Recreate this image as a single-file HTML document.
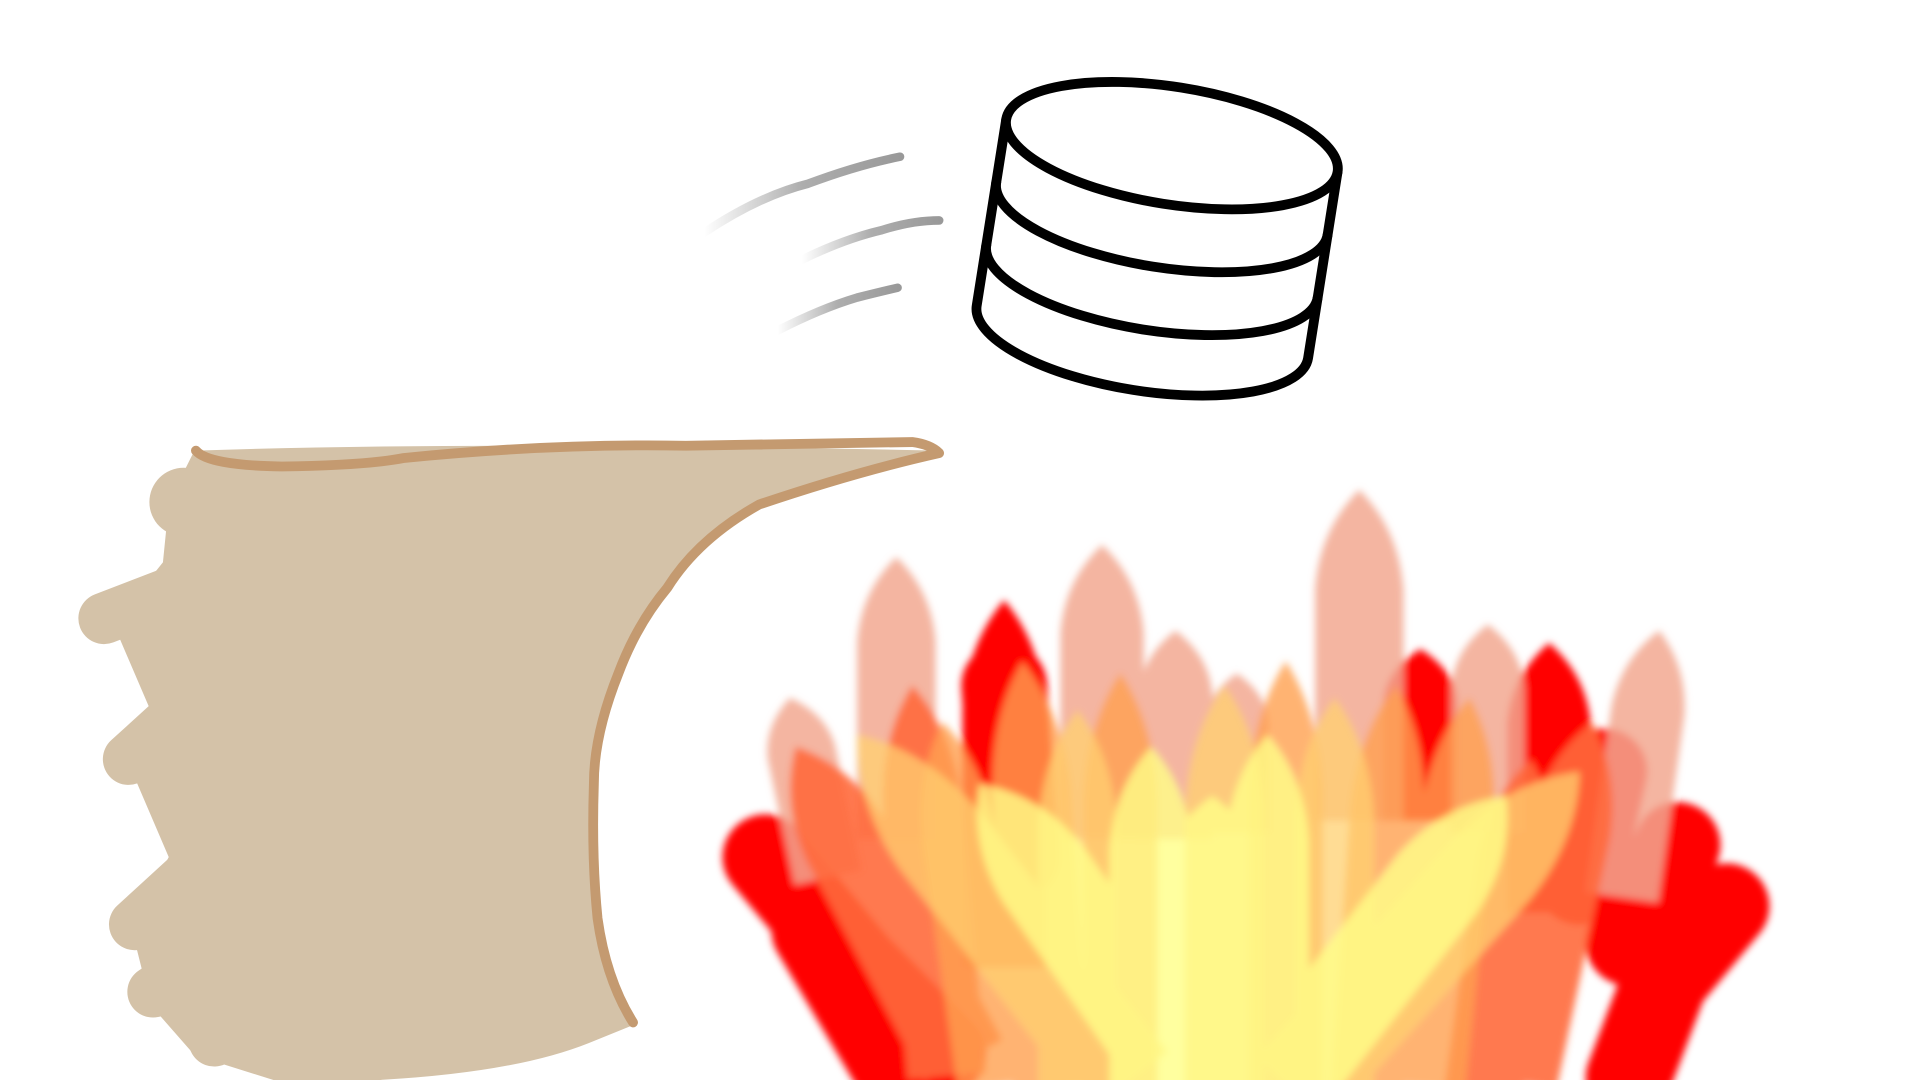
<!DOCTYPE html>
<html><head><meta charset="utf-8"><style>
html,body{margin:0;padding:0;background:#fff;width:1920px;height:1080px;overflow:hidden}
svg{display:block}
</style></head><body>
<svg width="1920" height="1080" viewBox="0 0 1568 882" preserveAspectRatio="none" xmlns="http://www.w3.org/2000/svg">
<defs>
<linearGradient id="sl" x1="0" y1="0" x2="1" y2="0"><stop offset="0" stop-color="#999" stop-opacity="0"/><stop offset="0.5" stop-color="#999" stop-opacity="0.8"/><stop offset="1" stop-color="#999"/></linearGradient>
<filter id="bl" x="-30%" y="-30%" width="160%" height="160%"><feGaussianBlur stdDeviation="3"/></filter>
<path id="f" d="M-1,1 L-1,0.3 Q-0.9,0.12 0,0 Q0.9,0.12 1,0.3 L1,1 Z"/>
</defs>
<rect width="1568" height="882" fill="#fff"/>
<!-- speed lines -->
<path d="M575,190 Q620,160 660,150 Q700,135 735,128" stroke="url(#sl)" stroke-width="7" fill="none" stroke-linecap="round"/>
<path d="M655,212 Q690,195 720,188 Q745,180 767,180" stroke="url(#sl)" stroke-width="7" fill="none" stroke-linecap="round"/>
<path d="M635,270 Q670,252 700,243 Q720,238 733,235" stroke="url(#sl)" stroke-width="7" fill="none" stroke-linecap="round"/>
<!-- database -->
<g transform="rotate(9 945 195)" stroke="#000" stroke-width="8" fill="#fff" stroke-linejoin="round" stroke-linecap="round">
<path d="M808,118 L808,272 A137,48 0 0 0 1082,272 L1082,118 Z"/>
<ellipse cx="945" cy="118" rx="137" ry="48"/>
<path d="M808,170 A137,48 0 0 0 1082,170" fill="none"/>
<path d="M808,222 A137,48 0 0 0 1082,222" fill="none"/>
</g>
<!-- hand -->
<g fill="#d4c2a8" stroke="#d4c2a8" stroke-linejoin="round" stroke-linecap="round">
<path stroke-width="4" d="M160,370 Q400,362 765,370 Q700,385 620,412 Q570,440 545,480 Q520,510 505,550 Q485,600 485,640 Q483,700 488,750 Q495,800 517,835 L480,850 Q400,882 230,882 L160,860 L125,820 L110,760 L140,700 L110,630 L125,580 L95,510 L135,460 L140,410 Z"/>
<circle cx="150" cy="410" r="28" stroke="none"/>
<line x1="85" y1="505" x2="150" y2="480" stroke-width="42"/>
<line x1="105" y1="620" x2="160" y2="570" stroke-width="42"/>
<line x1="110" y1="755" x2="170" y2="700" stroke-width="42"/>
<line x1="125" y1="810" x2="200" y2="760" stroke-width="42"/>
<line x1="175" y1="850" x2="240" y2="820" stroke-width="42"/>
<circle cx="165" cy="660" r="25" stroke="none"/>
<circle cx="130" cy="540" r="22" stroke="none"/>
</g>
<path d="M160,368 Q170,380 230,381 Q300,380 330,374 Q450,362 560,364 Q660,362 745,361 Q760,363 767,370 Q700,385 620,412 Q570,440 545,480 Q520,510 505,550 Q485,600 485,640 Q483,700 488,750 Q495,800 517,835" fill="none" stroke="#c49a70" stroke-width="8" stroke-linecap="round" stroke-linejoin="round"/>
<!-- fire -->
<g filter="url(#bl)">
<g stroke="#ff0000" stroke-width="70" stroke-linecap="round" fill="none">
<path d="M625,700 L700,790 L770,860"/>
<path d="M665,760 L730,870"/>
<path d="M1410,740 L1360,800 L1330,880"/>
<path d="M1370,690 L1330,770"/>
<path d="M1310,630 L1290,720"/>
<path d="M820,560 L830,700"/>
</g>
<g fill="#ff0000">
<use href="#f" transform="translate(820,490) scale(34,300)"/>
<use href="#f" transform="translate(1265,525) scale(34,220)"/>
<use href="#f" transform="translate(1160,530) scale(30,140)"/>
</g>
<g fill="#f2a890" opacity="0.85">
<use href="#f" transform="translate(732,455) scale(32,230)"/>
<use href="#f" transform="translate(900,445) scale(34,240)"/>
<use href="#f" transform="translate(1110,400) scale(36,270)"/>
<use href="#f" transform="translate(1355,515) rotate(8) scale(30,220)"/>
<use href="#f" transform="translate(960,515) scale(30,170)"/>
<use href="#f" transform="translate(1215,510) scale(30,170)"/>
<use href="#f" transform="translate(645,570) rotate(-12) scale(28,150)"/>
<use href="#f" transform="translate(1010,550) scale(26,130)"/>
</g>
<g fill="#ff6a3d" opacity="0.9">
<use href="#f" transform="translate(650,610) rotate(-28) scale(36,290)"/>
<use href="#f" transform="translate(745,560) rotate(-5) scale(32,320)"/>
<use href="#f" transform="translate(1300,590) rotate(12) scale(34,300)"/>
<use href="#f" transform="translate(1250,620) rotate(8) scale(32,290)"/>
</g>
<g fill="#ffa050" opacity="0.8">
<use href="#f" transform="translate(835,540) rotate(-4) scale(32,350)"/>
<use href="#f" transform="translate(915,550) scale(30,340)"/>
<use href="#f" transform="translate(1050,540) scale(30,350)"/>
<use href="#f" transform="translate(1140,560) rotate(4) scale(30,330)"/>
<use href="#f" transform="translate(1200,570) rotate(6) scale(30,320)"/>
<use href="#f" transform="translate(770,590) rotate(-8) scale(30,300)"/>
</g>
<g fill="#ffd070" opacity="0.75">
<use href="#f" transform="translate(700,600) rotate(-38) scale(40,360)"/>
<use href="#f" transform="translate(1290,630) rotate(42) scale(40,350)"/>
<use href="#f" transform="translate(880,580) scale(32,310)"/>
<use href="#f" transform="translate(1000,560) scale(32,330)"/>
<use href="#f" transform="translate(1090,570) scale(32,320)"/>
</g>
<g fill="#ffff88" opacity="0.8">
<use href="#f" transform="translate(800,640) rotate(-35) scale(40,300)"/>
<use href="#f" transform="translate(1230,650) rotate(38) scale(40,300)"/>
<use href="#f" transform="translate(940,610) scale(34,280)"/>
<use href="#f" transform="translate(1035,600) scale(34,290)"/>
<use href="#f" transform="translate(990,650) scale(45,240)"/>
</g>
</g>
</svg>
</body></html>
